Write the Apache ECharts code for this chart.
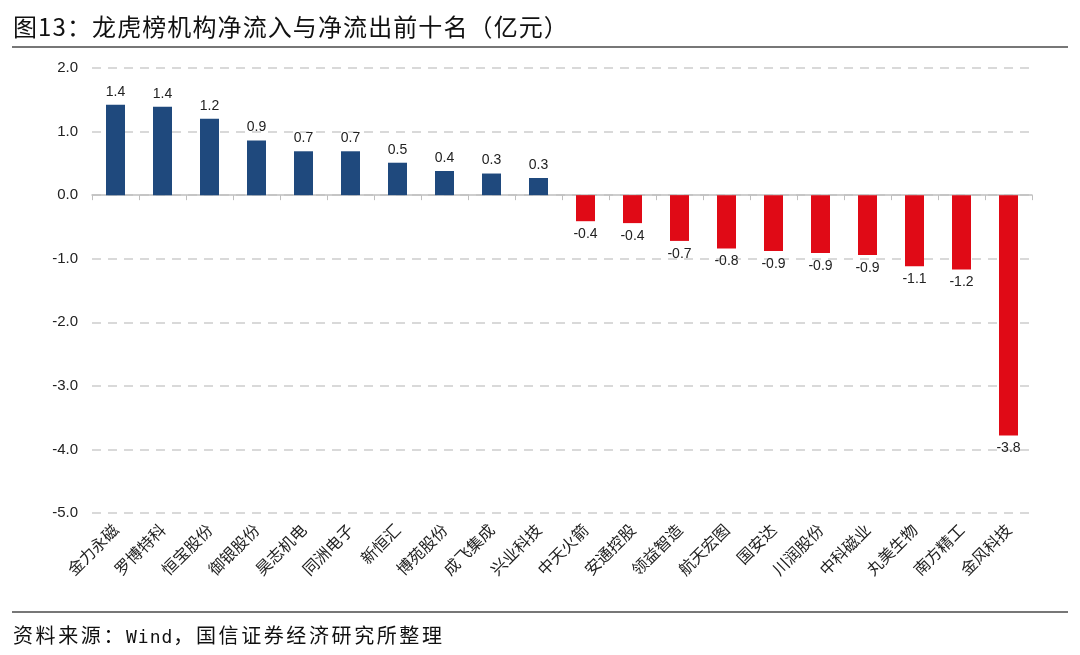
<!DOCTYPE html>
<html><head><meta charset="utf-8">
<script src="https://cdn.jsdelivr.net/npm/echarts@6/dist/echarts.min.js"></script>
<style>
html,body{margin:0;padding:0;background:#fff;}
#wrap{position:relative;width:1080px;height:655px;font-family:"Noto Sans CJK SC",sans-serif;}
#title{position:absolute;left:13px;top:8px;font-size:24px;color:#111;letter-spacing:1.1px;}
#l1{position:absolute;left:12px;top:46px;width:1056px;height:2px;background:#777;}
#l2{position:absolute;left:12px;top:611px;width:1056px;height:2px;background:#777;}
#src{position:absolute;left:13px;top:620px;font-size:20px;color:#111;letter-spacing:2.6px;}
#src .m{font-family:"DejaVu Sans Mono","Liberation Mono",monospace;font-size:18px;letter-spacing:1px;}
#chart{position:absolute;left:0;top:0;width:1080px;height:655px;}
</style></head>
<body><div id="wrap">
<div id="chart"></div>
<div id="title">图13：龙虎榜机构净流入与净流出前十名（亿元）</div>
<div id="l1"></div>
<div id="l2"></div>
<div id="src">资料来源：<span class="m">Wind</span>，国信证券经济研究所整理</div>
</div>
<script>
const categories = ["金力永磁","罗博特科","恒宝股份","御银股份","昊志机电","同洲电子","新恒汇","博苑股份","成飞集成","兴业科技","中天火箭","安通控股","领益智造","航天宏图","国安达","川润股份","中科磁业","丸美生物","南方精工","金风科技"];
const values = [1.42,1.39,1.20,0.86,0.69,0.69,0.51,0.38,0.34,0.27,-0.41,-0.44,-0.72,-0.84,-0.88,-0.91,-0.94,-1.12,-1.17,-3.78];
const yTicks = {min:-5, max:2, interval:1};
const posColor = "#1F497D", negColor = "#E00A16";

const chart = echarts.init(document.getElementById('chart'));
chart.setOption({
  animation:false,
  grid:{left:92,right:48,top:68,bottom:142},
  xAxis:{type:'category',data:categories,
    axisLine:{onZero:true,lineStyle:{color:'#bfbfbf',width:1.5}},
    axisTick:{show:true,length:5,lineStyle:{color:'#bfbfbf'}},
    axisLabel:{interval:0,rotate:45,color:'#222',fontSize:16,margin:14,
      fontFamily:'"Noto Sans CJK SC",sans-serif'}},
  yAxis:{type:'value',min:yTicks.min,max:yTicks.max,interval:yTicks.interval,
    axisLine:{show:false},axisTick:{show:false},
    axisLabel:{color:'#222',fontSize:15,margin:14,fontFamily:'Arial, "Liberation Sans", sans-serif',
      formatter:v=>v.toFixed(1)},
    splitLine:{lineStyle:{color:'#d9d9d9',width:2,type:[9,7]}}},
  series:[{type:'bar',barWidth:19,
    data:values.map(v=>({value:v,itemStyle:{color:v>=0?posColor:negColor},
      label:{position:v>=0?'top':'bottom'}})),
    label:{show:true,color:'#222',fontSize:14,distance:6,
      fontFamily:'"Liberation Sans", Arial, sans-serif',
      formatter:p=>p.value.toFixed(1)}}]
});
</script>
</body></html>
